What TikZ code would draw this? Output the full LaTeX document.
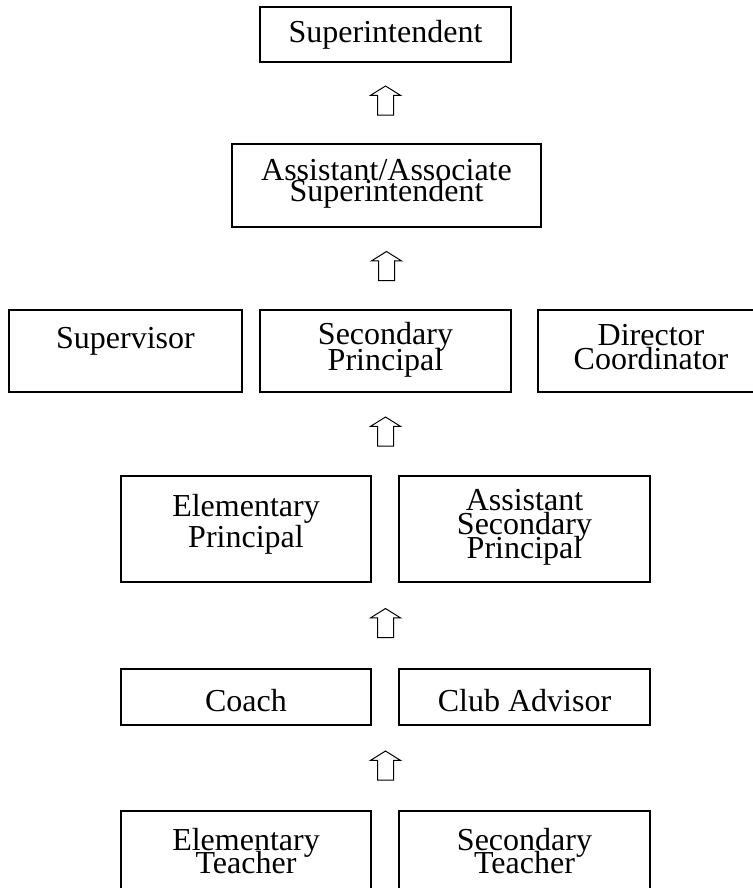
\documentclass[tikz,border=0pt]{standalone}
\usepackage{fontspec}
\setmainfont{Liberation Serif}
\usetikzlibrary{positioning,shapes.arrows,calc}
\newcommand\tightlines{\lineskiplimit=-20pt\relax}

\begin{document}
\begin{tikzpicture}[
  x=0.5pt, y=-0.5pt,
  box/.style={draw, line width=0.6pt, inner sep=0pt},
  txt/.style={align=center, inner sep=0pt, leading=11.75pt},
  leading/.style={font=\fontsize{16}{#1}\selectfont\tightlines},
  uparrow/.style={draw, line width=0.5pt, single arrow, shape border rotate=90,
    inner sep=3.75pt, minimum height=14.5pt, single arrow head extend=3.5pt,
    single arrow tip angle=116}
]
\useasboundingbox (0,0) rectangle (752,888);

% top levels
\node[box, minimum width=125.5pt, minimum height=27.5pt] (sup) at (385.5,34.5) {};
\node[txt, below=6.5pt of sup.north] (suptxt) {Superintendent};

\node[box, minimum width=154.5pt, minimum height=41.5pt] (aasup) at (386.5,185.5) {};
\node[txt, leading=10.5pt, below=8pt of aasup.north] (aasuptxt) {Assistant/Associate\\Superintendent};

% middle row of three
\node[box, minimum width=116.5pt, minimum height=41pt] (supv) at (125.5,351) {};
\node[txt, below=9pt of supv.north] (supvtxt) {Supervisor};
\node[box, minimum width=125.5pt, minimum height=41pt] (secp) at (385.5,351) {};
\node[txt, leading=13pt, below=6pt of secp.north] (secptxt) {Secondary\\Principal};
\node[box, minimum width=113pt, minimum height=41pt] (dir) at (651,351) {};
\node[txt, below=7.5pt of dir.north] (dirtxt) {Director\\Coordinator};

% lower rows of two
\node[box, minimum width=125pt, minimum height=53pt] (elemp) at (246,529) {};
\node[txt, leading=15.5pt, below=9pt of elemp.north] (elemptxt) {Elementary\\Principal};
\node[box, minimum width=125.5pt, minimum height=53pt] (asstp) at (524.5,529) {};
\node[txt, leading=12pt, below=7pt of asstp.north] (asstptxt) {Assistant\\Secondary\\Principal};

\node[box, minimum width=125pt, minimum height=28pt] (coach) at (246,697) {};
\node[txt, below=10pt of coach.north] (coachtxt) {Coach};
\node[box, minimum width=125.5pt, minimum height=28pt] (club) at (524.5,697) {};
\node[txt, below=10pt of club.north] (clubtxt) {Club Advisor};

\node[box, minimum width=125pt, minimum height=47pt] (elemt) at (246,858) {};
\node[txt, below=8.5pt of elemt.north] (elemttxt) {Elementary\\Teacher};
\node[box, minimum width=125.5pt, minimum height=47pt] (sect) at (524.5,858) {};
\node[txt, below=8.5pt of sect.north] (secttxt) {Secondary\\Teacher};

% hollow arrows between levels
\node[uparrow] (up1) at ($(sup.south)!0.5!(sup.south |- aasup.north)$) {};
\node[uparrow] (up2) at ($(aasup.south)!0.5!(aasup.south |- secp.north)$) {};
\node[uparrow] (up3) at ($(secp.south)!0.5!(secp.south |- elemp.north)$) {};
\node[uparrow] (up4) at ($(secp.south |- elemp.south)!0.5!(secp.south |- coach.north)$) {};
\node[uparrow] (up5) at ($(secp.south |- coach.south)!0.5!(secp.south |- elemt.north)$) {};
\end{tikzpicture}
\end{document}
